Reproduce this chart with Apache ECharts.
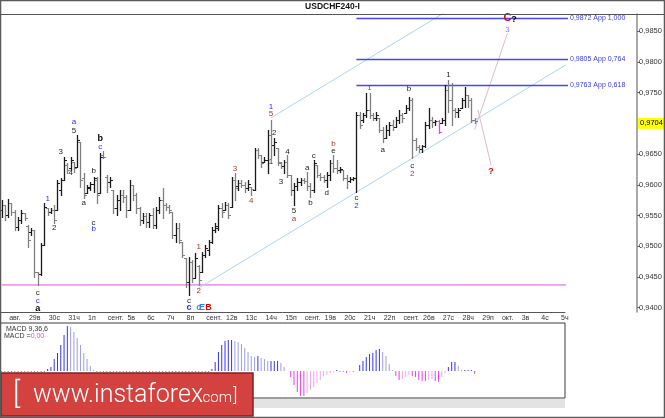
<!DOCTYPE html>
<html>
<head>
    <title>USDCHF240-I</title>
    <meta charset="utf-8">
    <script src="https://cdn.jsdelivr.net/npm/echarts@6/dist/echarts.min.js"></script>
    <style>
        html, body { margin: 0; padding: 0; background: #fff; }
        #main { width: 665px; height: 418px; }
    </style>
</head>
<body>
    <div id="main"></div>

    <script type="text/javascript">
        // time axis: 4H bars, 6 per trading day, first day starts at bar 2
        var dayLabels = ['авг.', '29в', '30с', '31ч', '1п', 'сент.', '5в', '6с', '7ч', '8п',
            'сент.', '12в', '13с', '14ч', '15п', 'сент.', '19в', '20с', '21ч', '22п',
            'сент.', '26в', '27с', '28ч', '29п', 'окт.', '3в', '4с', '5ч'];
        var barCount = 172;
        var firstDayBar = 2;
        var barsPerDay = 6;

        // USDCHF H4 bars
        var opens = [
            0.9559, 0.9567, 0.9551, 0.9571, 0.9556, 0.9531, 0.9543, 0.9554, 0.9533, 0.9523,
            0.9527, 0.9458, 0.9455, 0.9502, 0.9562, 0.9556, 0.9559, 0.9559, 0.9592, 0.9608,
            0.9632, 0.9627, 0.9637, 0.9629, 0.9670, 0.9611, 0.9587, 0.9595, 0.9601, 0.9608,
            0.9587, 0.9649, 0.9613, 0.9605, 0.9592, 0.9562, 0.9575, 0.9584, 0.9580, 0.9559,
            0.9600, 0.9584, 0.9562, 0.9543, 0.9549, 0.9540, 0.9551, 0.9535, 0.9559, 0.9575,
            0.9567, 0.9564, 0.9556, 0.9518, 0.9530, 0.9507, 0.9481, 0.9442, 0.9475, 0.9449,
            0.9468, 0.9458, 0.9486, 0.9494, 0.9507, 0.9527, 0.9530, 0.9562, 0.9559, 0.9567,
            0.9564, 0.9608, 0.9598, 0.9603, 0.9600, 0.9595, 0.9597, 0.9592, 0.9657, 0.9649,
            0.9637, 0.9640, 0.9681, 0.9665, 0.9660, 0.9636, 0.9631, 0.9637, 0.9616, 0.9592,
            0.9598, 0.9605, 0.9608, 0.9606, 0.9598, 0.9592, 0.9632, 0.9616, 0.9613, 0.9608,
            0.9616, 0.9636, 0.9627, 0.9624, 0.9624, 0.9611, 0.9606, 0.9610, 0.9611, 0.9714,
            0.9706, 0.9714, 0.9722, 0.9714, 0.9709, 0.9709, 0.9689, 0.9676, 0.9689, 0.9697,
            0.9694, 0.9706, 0.9714, 0.9717, 0.9725, 0.9738, 0.9673, 0.9662, 0.9658, 0.9663,
            0.9697, 0.9706, 0.9702, 0.9704, 0.9701, 0.9706, 0.9754, 0.9738, 0.9722, 0.9719,
            0.9725, 0.9738, 0.9746, 0.9738, 0.9706
        ];
        var highs = [
            0.9575, 0.9567, 0.9577, 0.9571, 0.9559, 0.9548, 0.9559, 0.9554, 0.9535, 0.9530,
            0.9527, 0.9458, 0.9505, 0.9571, 0.9562, 0.9562, 0.9567, 0.9608, 0.9611, 0.9645,
            0.9636, 0.9645, 0.9637, 0.9681, 0.9670, 0.9619, 0.9600, 0.9605, 0.9613, 0.9613,
            0.9652, 0.9655, 0.9616, 0.9613, 0.9592, 0.9584, 0.9592, 0.9592, 0.9584, 0.9608,
            0.9600, 0.9587, 0.9564, 0.9554, 0.9554, 0.9554, 0.9562, 0.9564, 0.9580, 0.9595,
            0.9571, 0.9567, 0.9556, 0.9538, 0.9538, 0.9507, 0.9481, 0.9483, 0.9478, 0.9489,
            0.9470, 0.9491, 0.9502, 0.9510, 0.9531, 0.9538, 0.9567, 0.9571, 0.9572, 0.9571,
            0.9613, 0.9619, 0.9608, 0.9608, 0.9605, 0.9608, 0.9597, 0.9660, 0.9660, 0.9649,
            0.9645, 0.9689, 0.9706, 0.9676, 0.9660, 0.9637, 0.9640, 0.9649, 0.9616, 0.9603,
            0.9611, 0.9611, 0.9611, 0.9621, 0.9603, 0.9640, 0.9632, 0.9619, 0.9616, 0.9621,
            0.9640, 0.9649, 0.9640, 0.9629, 0.9624, 0.9616, 0.9613, 0.9613, 0.9719, 0.9719,
            0.9717, 0.9750, 0.9750, 0.9717, 0.9719, 0.9709, 0.9694, 0.9697, 0.9702, 0.9706,
            0.9710, 0.9722, 0.9717, 0.9730, 0.9743, 0.9741, 0.9676, 0.9665, 0.9665, 0.9702,
            0.9725, 0.9710, 0.9706, 0.9706, 0.9709, 0.9763, 0.9771, 0.9766, 0.9725, 0.9725,
            0.9741, 0.9759, 0.9746, 0.9741, 0.9709
        ];
        var lows = [
            0.9548, 0.9543, 0.9548, 0.9551, 0.9527, 0.9527, 0.9538, 0.9543, 0.9499, 0.9518,
            0.9450, 0.9437, 0.9453, 0.9502, 0.9551, 0.9554, 0.9538, 0.9559, 0.9584, 0.9608,
            0.9619, 0.9624, 0.9621, 0.9629, 0.9597, 0.9579, 0.9587, 0.9592, 0.9588, 0.9571,
            0.9587, 0.9644, 0.9588, 0.9597, 0.9554, 0.9551, 0.9559, 0.9572, 0.9548, 0.9559,
            0.9575, 0.9554, 0.9535, 0.9538, 0.9531, 0.9531, 0.9530, 0.9530, 0.9554, 0.9546,
            0.9559, 0.9554, 0.9514, 0.9507, 0.9505, 0.9483, 0.9434, 0.9421, 0.9442, 0.9449,
            0.9437, 0.9458, 0.9483, 0.9486, 0.9505, 0.9523, 0.9527, 0.9548, 0.9559, 0.9546,
            0.9564, 0.9575, 0.9592, 0.9597, 0.9588, 0.9592, 0.9584, 0.9592, 0.9644, 0.9629,
            0.9637, 0.9619, 0.9644, 0.9649, 0.9632, 0.9627, 0.9619, 0.9613, 0.9584, 0.9567,
            0.9592, 0.9600, 0.9603, 0.9592, 0.9580, 0.9588, 0.9613, 0.9608, 0.9605, 0.9597,
            0.9608, 0.9621, 0.9619, 0.9621, 0.9608, 0.9595, 0.9605, 0.9608, 0.9588, 0.9693,
            0.9702, 0.9710, 0.9709, 0.9706, 0.9706, 0.9686, 0.9670, 0.9676, 0.9681, 0.9689,
            0.9694, 0.9701, 0.9702, 0.9717, 0.9722, 0.9644, 0.9657, 0.9654, 0.9654, 0.9662,
            0.9693, 0.9694, 0.9697, 0.9684, 0.9701, 0.9697, 0.9719, 0.9697, 0.9710, 0.9710,
            0.9725, 0.9727, 0.9727, 0.9702, 0.9701
        ];
        var closes = [
            0.9567, 0.9551, 0.9571, 0.9556, 0.9531, 0.9543, 0.9554, 0.9546, 0.9510, 0.9527,
            0.9458, 0.9455, 0.9502, 0.9564, 0.9556, 0.9559, 0.9543, 0.9603, 0.9608, 0.9640,
            0.9624, 0.9640, 0.9627, 0.9673, 0.9608, 0.9584, 0.9597, 0.9601, 0.9611, 0.9584,
            0.9645, 0.9645, 0.9605, 0.9608, 0.9562, 0.9575, 0.9584, 0.9580, 0.9559, 0.9600,
            0.9584, 0.9562, 0.9543, 0.9549, 0.9540, 0.9551, 0.9535, 0.9559, 0.9575, 0.9567,
            0.9564, 0.9559, 0.9518, 0.9530, 0.9510, 0.9486, 0.9442, 0.9475, 0.9449, 0.9481,
            0.9445, 0.9486, 0.9497, 0.9507, 0.9527, 0.9533, 0.9562, 0.9556, 0.9567, 0.9551,
            0.9608, 0.9595, 0.9603, 0.9600, 0.9595, 0.9601, 0.9593, 0.9657, 0.9649, 0.9636,
            0.9640, 0.9681, 0.9665, 0.9670, 0.9637, 0.9631, 0.9637, 0.9616, 0.9592, 0.9598,
            0.9605, 0.9608, 0.9606, 0.9598, 0.9592, 0.9636, 0.9616, 0.9613, 0.9608, 0.9616,
            0.9636, 0.9627, 0.9624, 0.9626, 0.9611, 0.9606, 0.9610, 0.9611, 0.9714, 0.9697,
            0.9714, 0.9722, 0.9714, 0.9709, 0.9714, 0.9689, 0.9676, 0.9689, 0.9697, 0.9694,
            0.9706, 0.9714, 0.9709, 0.9725, 0.9738, 0.9673, 0.9662, 0.9658, 0.9663, 0.9697,
            0.9706, 0.9702, 0.9704, 0.9686, 0.9706, 0.9754, 0.9738, 0.9722, 0.9719, 0.9722,
            0.9738, 0.9746, 0.9738, 0.9706, 0.9704
        ];
        var markedBar = 133;

        // MACD(9,36,6) histogram, in pips
        var macdHist = [
            -0.1, -0.1, -0.1, -0.1, -0.1, -0.1, -0.1, -0.1, -0.1, -0.1,
            -0.1, -0.1, -0.1, -0.1, 0.2, 0.4, 1.2, 1.8, 2.6, 3.6,
            4.5, 4.4, 3.9, 3.3, 2.6, 1.8, 1.2, 0.5, 0.1, -0.1,
            -0.1, -0.1, -0.1, -0.1, -0.1, -0.1, -0.1, -0.1, -0.1, -0.1,
            -0.1, -0.1, -0.1, -0.1, -0.1, -0.1, -0.1, -0.1, -0.1, -0.1,
            -0.1, -0.1, -0.1, -0.1, -0.1, -0.1, -0.1, -0.1, -0.1, -0.1,
            -0.1, -0.1, -0.1, -0.1, 0.2, 0.9, 1.9, 2.6, 3.0, 3.1,
            3.1, 3.0, 2.9, 2.7, 2.3, 1.9, 1.5, 1.4, 1.5, 1.3,
            1.2, 1.0, 1.0, 1.0, 1.0, 0.8, 0.4, 0.0, -0.6, -1.4,
            -2.1, -2.5, -2.5, -2.2, -1.9, -1.6, -1.2, -0.9, -0.5, -0.4,
            -0.2, -0.1, 0.1, -0.1, -0.1, -0.2, -0.1, -0.1, 0.0, 0.6,
            1.0, 1.4, 1.7, 1.8, 2.1, 2.2, 1.9, 1.5, 0.7, 0.1,
            -0.5, -0.9, -0.8, -0.6, -0.4, -0.5, -0.6, -0.9, -1.0, -1.0,
            -0.9, -0.8, -1.0, -1.1, -0.6, -0.2, 0.4, 0.9, 0.9, 0.5,
            0.1, 0.1, 0.1, 0.1, -0.3
        ];

        // price scale
        var priceMin = 0.9393;
        var priceMax = 0.9878;
        var priceTicks = [0.9400, 0.9450, 0.9500, 0.9550, 0.9600, 0.9650, 0.9750, 0.9800, 0.9850];

        // Fibonacci targets drawn from the wave-2 low
        var fibStartBar = 108;
        var fibLevels = [0.9872, 0.9805, 0.9763];
        var fibNames = ['App 1,000', 'App 0,764', 'App 0,618'];

        // support and trend channel
        var supportLevel = 0.9437;
        var channelLow = [[60, 0.9432], [171.5, 0.9796]];
        var channelHigh = [[82, 0.9709], [171.5, 1.0001]];
        var forecastUp = [[144.3, 0.9690], [153.5, 0.9847]];
        var forecastDown = [[144.6, 0.9722], [148.7, 0.9632]];

        // wave marks: [bar, price, text, style]
        var waveLabels = [
            [22.3, 0.9702, 'a', 'u'], [22.3, 0.9688, '5', 'k'], [18.4, 0.9654, '3', 'k'],
            [21.4, 0.9619, '4', 'k'], [13.5, 0.9577, '1', 'u'], [15.6, 0.9530, '2', 'k'],
            [30.2, 0.9676, 'b', 'K'], [30.2, 0.9662, 'c', 'u'], [27.5, 0.9623, 'b', 'k'],
            [25.4, 0.9571, 'a', 'k'], [28.4, 0.9538, 'c', 'k'], [28.4, 0.9528, 'b', 'u'],
            [10.8, 0.9424, 'c', 'k'], [10.8, 0.9411, 'c', 'u'], [10.8, 0.9399, 'a', 'K'],
            [59.5, 0.9499, '1', 'r'], [60.1, 0.9427, '2', 'r'], [57.0, 0.9411, 'c', 'k'],
            [57.0, 0.9400, 'c', 'U'], [59.5, 0.9400, 'c', 'l'], [61.3, 0.9400, 'E', 'L'],
            [63.1, 0.9400, 'B', 'R'], [71.0, 0.9626, '3', 'r'], [76.2, 0.9574, '4', 'r'],
            [82.0, 0.9727, '1', 'u'], [82.0, 0.9715, '5', 'r'], [83.2, 0.9684, '2', 'k'],
            [82.0, 0.9637, '1', 'k'], [85.0, 0.9605, '3', 'k'], [87.2, 0.9654, '4', 'k'],
            [89.0, 0.9558, '5', 'k'], [89.0, 0.9544, 'a', 'r'], [93.0, 0.9627, 'a', 'k'],
            [94.2, 0.9571, 'b', 'k'], [95.1, 0.9647, 'c', 'k'], [99.0, 0.9587, 'd', 'k'],
            [101.2, 0.9655, 'e', 'k'], [101.2, 0.9667, 'b', 'r'], [108.2, 0.9579, 'c', 'k'],
            [108.2, 0.9566, '2', 'u'], [111.8, 0.9758, '1', 'r'], [116.1, 0.9657, 'a', 'k'],
            [123.7, 0.9756, 'b', 'k'], [124.9, 0.9631, 'c', 'k'], [124.9, 0.9618, '2', 'r'],
            [135.9, 0.9779, '1', 'k'], [153.5, 0.9872, 'C', 'C'], [155.9, 0.9869, '?', 'K'],
            [153.5, 0.9852, '3', 'p'], [148.7, 0.9621, '?', 'R']
        ];

        var labelStyles = {
            k: { fill: '#1e1e1e', font: '8px "Liberation Sans"' },
            K: { fill: '#000000', font: 'bold 9px "Liberation Sans"' },
            u: { fill: '#2b2bff', font: '8px "Liberation Sans"' },
            U: { fill: '#2b2bff', font: 'bold 9px "Liberation Sans"' },
            r: { fill: '#b0352a', font: '8px "Liberation Sans"' },
            R: { fill: '#e60000', font: 'bold 9px "Liberation Sans"' },
            C: { fill: '#e60000', font: 'bold 11px "Liberation Sans"' },
            l: { fill: '#2f9bff', font: 'bold 9px "Liberation Sans"' },
            L: { fill: '#2f7bff', font: 'bold 9px "Liberation Sans"' },
            p: { fill: '#8a82d8', font: '8px "Liberation Sans"' }
        };

        var dayAt = {};
        dayLabels.forEach(function (t, d) {
            dayAt[firstDayBar + d * barsPerDay] = t;
        });
        var categories = [];
        for (var i = 0; i < barCount; i++) {
            categories.push('b' + i);
        }
        var bars = opens.map(function (o, i) {
            return [i, o, highs[i], lows[i], closes[i]];
        });
        var lastClose = closes[closes.length - 1];
        var isDayStart = function (index) {
            return dayAt[index] !== undefined;
        };
        var fmtPrice = function (v) {
            return v.toFixed(4).replace('.', ',');
        };

        function renderBar(params, api) {
            var idx = api.value(0);
            var x = Math.round(api.coord([idx, priceMin])[0]) + 0.5;
            var o = Math.round(api.coord([idx, api.value(1)])[1]) + 0.5;
            var h = Math.round(api.coord([idx, api.value(2)])[1]);
            var l = Math.round(api.coord([idx, api.value(3)])[1]) + 1;
            var c = Math.round(api.coord([idx, api.value(4)])[1]) + 0.5;
            var color = params.dataIndex === markedBar ? '#f03cf0' :
                (api.value(4) >= api.value(1) ? '#1a1a1a' : '#808080');
            var st = { stroke: color, lineWidth: 1 };
            return {
                type: 'group',
                children: [
                    { type: 'line', shape: { x1: x, y1: h, x2: x, y2: l }, style: { stroke: color, lineWidth: 1.3 } },
                    { type: 'line', shape: { x1: x - 2.5, y1: o, x2: x, y2: o }, style: st },
                    { type: 'line', shape: { x1: x, y1: c, x2: x + 2.5, y2: c }, style: st }
                ]
            };
        }

        function renderFib(params, api) {
            var p = api.coord([api.value(0), api.value(1)]);
            var right = params.coordSys.x + params.coordSys.width;
            var y = Math.round(p[1]) + 0.5;
            return {
                type: 'group',
                children: [
                    { type: 'line', shape: { x1: p[0], y1: y, x2: right + 3, y2: y },
                      style: { stroke: '#4646f2', lineWidth: 1.3 } },
                    { type: 'text', x: right + 5, y: y,
                      style: { text: fmtPrice(api.value(1)) + ' ' + fibNames[api.value(2)],
                               fill: '#3a3ae6', font: '7px "Liberation Sans"', verticalAlign: 'middle' } }
                ]
            };
        }

        function renderLabel(params, api) {
            var p = api.coord([api.value(0), api.value(1)]);
            var item = waveLabels[params.dataIndex];
            var s = labelStyles[item[3]];
            return {
                type: 'text', x: p[0], y: p[1],
                style: { text: item[2], fill: s.fill, font: s.font, align: 'center', verticalAlign: 'middle' }
            };
        }

        var myChart = echarts.init(document.getElementById('main'));

        var thinLine = function (name, data, color) {
            return {
                name: name, type: 'line', data: data, showSymbol: false, symbol: 'none',
                silent: true, clip: true, z: 1,
                lineStyle: { color: color, width: 1 }
            };
        };

        var option = {
            animation: false,
            backgroundColor: '#ffffff',
            textStyle: { fontFamily: '"Liberation Sans", "DejaVu Sans", sans-serif' },
            title: {
                text: 'USDCHF240-I', left: 'center', top: 2, padding: 0,
                textStyle: { fontSize: 8.5, fontWeight: 'bold', color: '#111' }
            },
            grid: [
                { left: 0, top: 14, width: 565, height: 298 },
                { left: 0, top: 323, width: 565, height: 75, show: true,
                  borderColor: '#3a3a3a', borderWidth: 1, backgroundColor: 'rgba(0,0,0,0)' }
            ],
            xAxis: [{
                type: 'category', gridIndex: 0, data: categories, boundaryGap: true,
                axisLine: { lineStyle: { color: '#555', width: 1 } },
                axisTick: { alignWithLabel: true, interval: isDayStart, length: 4, lineStyle: { color: '#555' } },
                axisLabel: {
                    interval: isDayStart, align: 'left', margin: 3, padding: [0, 0, 0, 1],
                    fontSize: 7, color: '#333',
                    formatter: function (v, index) { return dayAt[index] || ''; }
                },
                splitLine: { show: false }
            }, {
                type: 'category', gridIndex: 1, data: categories, boundaryGap: true, show: false
            }],
            yAxis: [{
                type: 'value', gridIndex: 0, position: 'right', offset: 72,
                min: priceMin, max: priceMax,
                axisLine: { show: true, lineStyle: { color: '#8c8c8c', width: 1.5 } },
                axisTick: { show: true, length: 3, customValues: priceTicks, lineStyle: { color: '#666' } },
                axisLabel: { customValues: priceTicks, fontSize: 7.5, color: '#333', margin: 2, formatter: fmtPrice },
                splitLine: { show: false }
            }, {
                type: 'value', gridIndex: 1, min: -2.7, max: 4.8, show: false, splitLine: { show: false }
            }],
            series: [
                {
                    name: 'support', type: 'line', silent: true, symbol: 'none', z: 1,
                    data: [[-0.5, supportLevel], [barCount - 0.5, supportLevel]],
                    lineStyle: { color: '#e352e3', width: 1 }
                },
                thinLine('channel low', channelLow, '#a9d6ec'),
                thinLine('channel high', channelHigh, '#a9d6ec'),
                thinLine('forecast up', forecastUp, '#d9bccb'),
                thinLine('forecast down', forecastDown, '#d9bccb'),
                {
                    name: 'fib', type: 'custom', silent: true, z: 2,
                    data: fibLevels.map(function (v, k) { return [fibStartBar, v, k]; }),
                    encode: { x: 0, y: 1 },
                    renderItem: renderFib
                },
                {
                    name: 'USDCHF', type: 'custom', silent: true, z: 3,
                    data: bars,
                    encode: { x: 0, y: [1, 2, 3, 4] },
                    renderItem: renderBar,
                    markLine: {
                        silent: true, symbol: 'none',
                        data: [{ yAxis: lastClose }],
                        lineStyle: { color: 'rgba(0,0,0,0)', width: 0 },
                        label: {
                            position: 'end', distance: 73, formatter: function () { return fmtPrice(lastClose); },
                            backgroundColor: '#ffff00', color: '#000', fontSize: 7.5, padding: [2, 3, 1, 2]
                        }
                    }
                },
                {
                    name: 'waves', type: 'custom', silent: true, z: 4,
                    data: waveLabels.map(function (w) { return [w[0], w[1]]; }),
                    encode: { x: 0, y: 1 },
                    renderItem: renderLabel
                },
                {
                    name: 'MACD', type: 'bar', xAxisIndex: 1, yAxisIndex: 1, silent: true,
                    data: macdHist, barWidth: 1,
                    itemStyle: {
                        color: function (p) {
                            var v = macdHist[p.dataIndex];
                            var prev = p.dataIndex > 0 ? macdHist[p.dataIndex - 1] : v;
                            if (v >= 0) return v >= prev ? '#3434f2' : '#9d9dea';
                            return v <= prev ? '#ee3cee' : '#f5a3f5';
                        }
                    }
                }
            ],
            graphic: [
                { type: 'rect', z: 1, silent: true, shape: { x: 1, y: 399, width: 564, height: 9 },
                  style: { fill: '#e3e3e3' } },
                { type: 'text', z: 100, silent: true, x: 6, y: 326,
                  style: { text: 'MACD 9,36,6', font: '7px "Liberation Sans"', fill: '#333' } },
                { type: 'text', z: 100, silent: true, x: 4, y: 333,
                  style: { text: 'MACD ={m|0,00}', font: '7px "Liberation Sans"', fill: '#333',
                           rich: { m: { fill: '#ff33ff', font: '7px "Liberation Sans"' } } } },
                { type: 'rect', z: 110, silent: true, shape: { x: 1, y: 373, width: 252, height: 43 },
                  style: { fill: '#d3423e', stroke: '#7b2424', lineWidth: 1.5 } },
                { type: 'text', z: 111, silent: true, x: 13, y: 395,
                  style: { text: '[', font: '300 30px Roboto', fill: '#fff', verticalAlign: 'middle' } },
                { type: 'text', z: 111, silent: true, x: 33, y: 408,
                  style: { text: 'www.instaforex', font: '300 25px Roboto', fill: '#fff', verticalAlign: 'bottom' } },
                { type: 'text', z: 111, silent: true, x: 199, y: 406,
                  style: { text: '.com', font: '300 15px Roboto', fill: '#fff', verticalAlign: 'bottom' } },
                { type: 'text', z: 111, silent: true, x: 233, y: 396,
                  style: { text: ']', font: '300 19px Roboto', fill: '#fff', verticalAlign: 'middle' } },
                { type: 'line', z: 120, silent: true, shape: { x1: 0, y1: 14.5, x2: 665, y2: 14.5 },
                  style: { stroke: '#555', lineWidth: 1 } },
                { type: 'rect', z: 120, silent: true, shape: { x: 0.5, y: 0.5, width: 664, height: 417 },
                  style: { fill: 'none', stroke: '#5a5a5a', lineWidth: 1.5 } }
            ]
        };

        myChart.setOption(option);
    </script>
</body>
</html>
